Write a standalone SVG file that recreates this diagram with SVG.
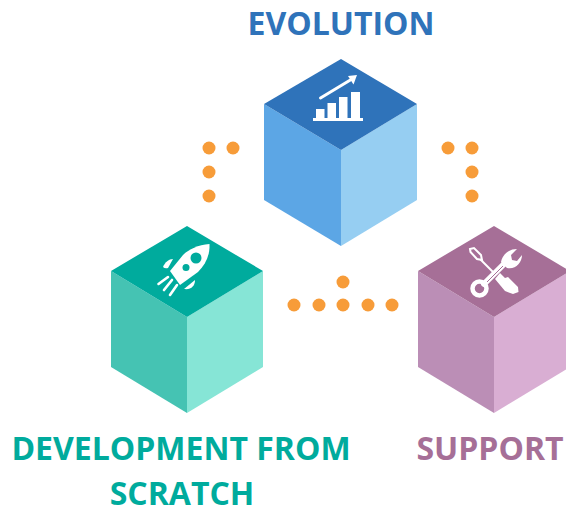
<svg xmlns="http://www.w3.org/2000/svg" width="566" height="506" viewBox="0 0 566 506">
<style>
.t{font-family:"Open Sans","Liberation Sans",sans-serif;font-weight:700;font-size:32px;text-anchor:middle;opacity:.999}
.d{fill:#f79c39}
.w{fill:#fff}
.ws{fill:none;stroke:#fff;stroke-linecap:round}
</style>
<rect width="566" height="506" fill="#fff"/>
<g id="connectors">
<circle class="d" cx="209" cy="148" r="6.5"/><circle class="d" cx="233" cy="148" r="6.5"/><circle class="d" cx="209" cy="172" r="6.5"/><circle class="d" cx="209" cy="196" r="6.5"/>
<circle class="d" cx="448" cy="148" r="6.5"/><circle class="d" cx="472" cy="148" r="6.5"/><circle class="d" cx="472" cy="172" r="6.5"/><circle class="d" cx="472" cy="196" r="6.5"/>
<circle class="d" cx="343" cy="282" r="6.5"/><circle class="d" cx="294" cy="305" r="6.5"/><circle class="d" cx="319" cy="305" r="6.5"/><circle class="d" cx="343" cy="305" r="6.5"/><circle class="d" cx="368" cy="305" r="6.5"/><circle class="d" cx="392" cy="305" r="6.5"/>
</g>
<g id="evolution">
<polygon points="264,104 341,150 341,246 264,200" fill="#5ca6e5"/>
<polygon points="341,150 417,104 417,200 341,246" fill="#96cef2"/>
<polygon points="341,59 417,104 341,150 264,104" fill="#2f73ba"/>
<rect class="w" x="316" y="109" width="8.500" height="10"/><rect class="w" x="327.500" y="103" width="8.500" height="16"/><rect class="w" x="339" y="97" width="8.500" height="22"/><rect class="w" x="351" y="92" width="9" height="27"/>
<rect class="w" x="313" y="118" width="50" height="3"/>
<path class="ws" stroke-width="3" d="M320.500 98 L352 79"/>
<polygon class="w" points="357,75 348,76 353.500,84.500"/>
<text class="t" x="341" y="35" fill="#2f73ba">EVOLUTION</text>
</g>
<g id="development">
<polygon points="111,271 187,317 187,413 111,367" fill="#45c3b3"/>
<polygon points="187,317 263,271 263,367 187,413" fill="#86e5d6"/>
<polygon points="187,226 263,271 187,317 111,271" fill="#00ab9d"/>
<path class="w" d="M209.500 244 C198 245 189 249 183 255 L170 271 L180 285 L198 272 C206 264 210 255 209.500 244Z"/>
<circle cx="196" cy="258" r="5.500" fill="#00ab9d"/>
<circle cx="186" cy="267.500" r="3.500" fill="#00ab9d"/>
<path class="w" d="M163 267 C165 262 169 259 173 259 L168 268 Q165 269 163 267Z"/>
<path class="w" d="M184 289 L195 280 C195 286 191 290 184 289Z"/>
<path class="ws" stroke-width="2.600" d="M158.500 284 L168 277 M164 290 L172 280 M170 295 L177 285"/>
<text class="t" x="181" y="460" fill="#00ab9d">DEVELOPMENT FROM</text>
<text class="t" x="182" y="505" fill="#00ab9d">SCRATCH</text>
</g>
<g id="support">
<polygon points="418,271 494,317 494,413 418,367" fill="#bb8eb6"/>
<polygon points="494,317 570,271 570,367 494,413" fill="#d9aed3"/>
<polygon points="494,226 570,271 494,317 418,271" fill="#a66f97"/>
<path class="ws" stroke-width="2" d="M481 260 L493 272" stroke-linecap="butt"/>
<path d="M470 249 L474 248 L481 255 L482 260 L477 259 L470.500 252 Z" fill="none" stroke="#fff" stroke-width="2"/>
<path class="w" d="M500 273 L505 278 L508 277 L518 287 L518.500 292 L513 294 L505 291 L495 279 Z"/>
<path class="ws" stroke-width="6" d="M484 284 L506 262" stroke-linecap="butt"/>
<path fill="none" stroke="#a66f97" stroke-width="1" d="M487 282 L503 266"/>
<circle cx="479.500" cy="288.500" r="7" fill="none" stroke="#fff" stroke-width="4.500"/>
<path class="w" d="M501 262 C503 253 510 249 517 249 L511 255 L512 260 L517 261 L522 255 C522 263 515 270 507 268 Z"/>
<text class="t" x="490" y="460" fill="#a66f97">SUPPORT</text>
</g>
</svg>
